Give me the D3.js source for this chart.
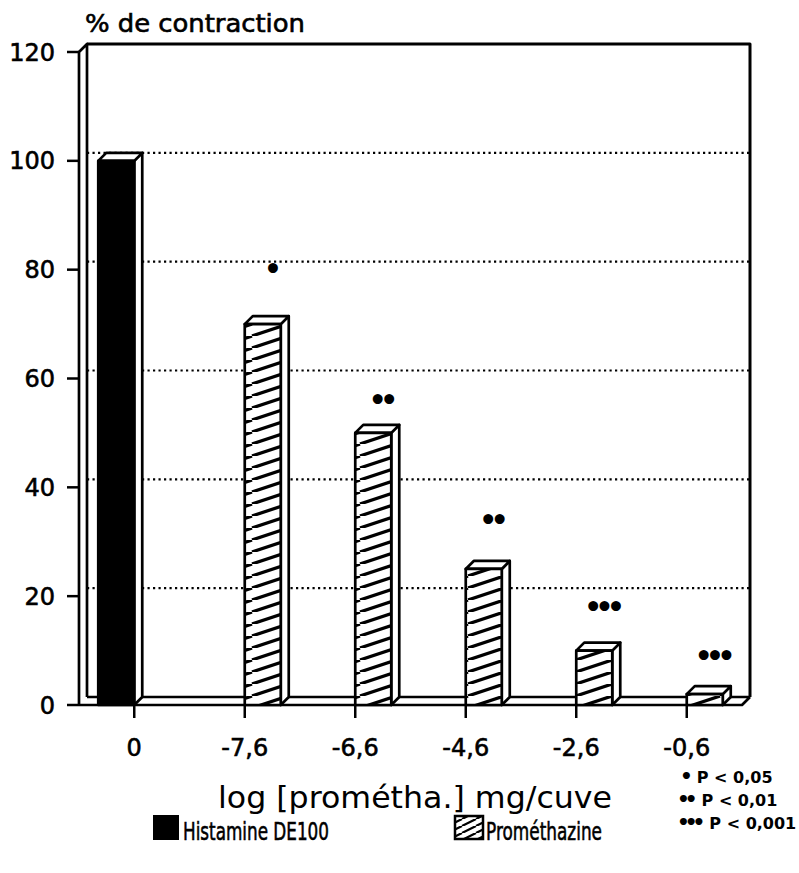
<!DOCTYPE html>
<html><head><meta charset="utf-8">
<script src="https://cdn.jsdelivr.net/npm/d3@7/dist/d3.min.js"></script>
<style>
html,body{margin:0;padding:0;background:#fff;}
svg{display:block;}
text{font-family:"DejaVu Sans","Liberation Sans",Arial,sans-serif;fill:#000;}
.heavy{stroke:#000;stroke-width:0.6px;}
</style></head>
<body>
<script>
// ---- data ----
const categories = ["0", "-7,6", "-6,6", "-4,6", "-2,6", "-0,6"];
const seriesNames = ["Histamine DE100", "Prométhazine"];
const histamine = [100, 0, 0, 0, 0, 0];
const promethazine = [0, 70, 50, 25, 10, 2];
const stars = ["", "•", "••", "••", "•••", "•••"];
const starValues = [null, 80, 56, 34, 18, 9];
const yTicks = [0, 20, 40, 60, 80, 100, 120];
const pMarks = ["•", "••", "•••"];
const pTexts = ["P < 0,05", "P < 0,01", "P < 0,001"];

const W = 799, H = 873;
const svg = d3.select("body").append("svg").attr("width", W).attr("height", H);
const defs = svg.append("defs");

// hatch pattern for bars
const pat = defs.append("pattern").attr("id", "hatch").attr("patternUnits", "userSpaceOnUse")
  .attr("width", 36).attr("height", 12);
pat.append("rect").attr("width", 36).attr("height", 12).attr("fill", "#fff");
pat.append("path").attr("d", "M0,12 L36,0 M-36,12 L0,0 M36,12 L72,0")
  .attr("stroke", "#000").attr("stroke-width", 3.2);
const pat2 = defs.append("pattern").attr("id", "hatch2").attr("patternUnits", "userSpaceOnUse")
  .attr("width", 14).attr("height", 7);
pat2.append("rect").attr("width", 14).attr("height", 7).attr("fill", "#fff");
pat2.append("path").attr("d", "M0,7 L14,0 M-14,7 L0,0 M14,7 L28,0")
  .attr("stroke", "#000").attr("stroke-width", 2.2);

// ---- scales ----
const x0 = d3.scaleBand().domain(categories).range([79, 742]).padding(0);
const x1 = d3.scaleBand().domain(seriesNames).range([-36, 36]).padding(0);
const y = d3.scaleLinear().domain([0, 120]).range([705, 52]);
const dx = 8, dy = -8;
const left = x0.range()[0], right = x0.range()[1];

// ---- back wall gridlines ----
svg.append("g").selectAll("line").data(yTicks.filter(v => v > 0 && v < 120)).join("line")
  .attr("x1", left + dx).attr("x2", right + dx)
  .attr("y1", d => y(d) + dy).attr("y2", d => y(d) + dy)
  .attr("stroke", "#000").attr("stroke-width", 2.2).attr("stroke-dasharray", "2.2,3.3");

const frame = svg.append("g").attr("fill", "none").attr("stroke", "#000").attr("stroke-width", 2.7)
  .attr("stroke-linejoin", "round");
frame.append("path").attr("d",
  `M${left + dx},${y(120) + dy} L${right + dx},${y(120) + dy} L${right + dx},${y(0) + dy}`)
  .attr("stroke-width", 3);
frame.append("path").attr("d",
  `M${left},${y(0)} L${left},${y(120)} L${left + dx},${y(120) + dy} L${left + dx},${y(0) + dy}`);
frame.append("path").attr("d",
  `M${left},${y(0)} L${right},${y(0)} L${right + dx},${y(0) + dy} M${left + dx},${y(0) + dy} L${right + dx},${y(0) + dy}`);

// ---- y axis ticks & labels ----
svg.append("g").selectAll("line").data(yTicks).join("line")
  .attr("x1", left - 12).attr("x2", left).attr("y1", d => y(d)).attr("y2", d => y(d))
  .attr("stroke", "#000").attr("stroke-width", 2.5);
svg.append("g").selectAll("text").data(yTicks).join("text").attr("class", "heavy")
  .attr("x", 55).attr("y", d => y(d)).attr("dy", "0.36em").attr("text-anchor", "end")
  .attr("font-size", 24).text(d => d);

// ---- x axis ticks & labels ----
svg.append("g").selectAll("line").data(categories).join("line")
  .attr("x1", d => x0(d) + x0.bandwidth() / 2).attr("x2", d => x0(d) + x0.bandwidth() / 2)
  .attr("y1", y(0)).attr("y2", y(0) + 13).attr("stroke", "#000").attr("stroke-width", 2.5);
svg.append("g").selectAll("text").data(categories).join("text").attr("class", "heavy")
  .attr("x", d => x0(d) + x0.bandwidth() / 2).attr("y", 756).attr("text-anchor", "middle")
  .attr("font-size", 24).text(d => d);

// ---- bars ----
const bars = [];
categories.forEach((c, i) => {
  [[seriesNames[0], histamine[i]], [seriesNames[1], promethazine[i]]].forEach(([s, v]) => {
    if (v > 0) bars.push({ c, s, v });
  });
});
const bg = svg.append("g").attr("stroke", "#000").attr("stroke-width", 2.7).attr("stroke-linejoin", "round");
bars.forEach(b => {
  const cx = x0(b.c) + x0.bandwidth() / 2;
  const xa = cx + x1(b.s), xb = xa + x1.bandwidth();
  const yt = y(b.v), yb = y(0);
  const g = bg.append("g");
  g.append("path").attr("fill", "#fff")
    .attr("d", `M${xb},${yt} L${xb + dx},${yt + dy} L${xb + dx},${yb + dy} L${xb},${yb} Z`);
  g.append("path").attr("fill", "#fff")
    .attr("d", `M${xa},${yt} L${xa + dx},${yt + dy} L${xb + dx},${yt + dy} L${xb},${yt} Z`);
  g.append("rect").attr("x", xa).attr("y", yt).attr("width", xb - xa).attr("height", yb - yt)
    .attr("fill", b.s === seriesNames[0] ? "#000" : "url(#hatch)");
});

// ---- significance marks ----
svg.append("g").selectAll("text").data(categories.map((c, i) => ({ c, s: stars[i], v: starValues[i] })).filter(d => d.v != null))
  .join("text")
  .attr("x", d => x0(d.c) + x0.bandwidth() / 2 + x1(seriesNames[1]) + x1.bandwidth() / 2 + dx / 2 + 3)
  .attr("y", d => y(d.v)).attr("dy", "0.35em").attr("text-anchor", "middle")
  .attr("font-size", 28).attr("font-weight", "bold").attr("letter-spacing", -6.5).text(d => d.s);

// ---- titles ----
svg.append("text").attr("class", "heavy").attr("x", 85).attr("y", 32).attr("font-size", 24)
  .attr("textLength", 220).attr("lengthAdjust", "spacingAndGlyphs").text("% de contraction");
svg.append("text").attr("x", 218).attr("y", 808)
  .attr("font-size", 31).attr("textLength", 394).attr("lengthAdjust", "spacingAndGlyphs")
  .text("log [prométha.] mg/cuve");

// ---- legend ----
const lg = svg.append("g");
lg.append("rect").attr("x", 153).attr("y", 815).attr("width", 26).attr("height", 25).attr("fill", "#000");
lg.append("text").attr("class", "heavy").attr("x", 183).attr("y", 840).attr("font-size", 25)
  .attr("textLength", 146).attr("lengthAdjust", "spacingAndGlyphs").text(seriesNames[0]);
lg.append("rect").attr("x", 455).attr("y", 816).attr("width", 28).attr("height", 23)
  .attr("fill", "url(#hatch2)").attr("stroke", "#000").attr("stroke-width", 2.5);
lg.append("text").attr("class", "heavy").attr("x", 486).attr("y", 840).attr("font-size", 25)
  .attr("textLength", 116).attr("lengthAdjust", "spacingAndGlyphs").text(seriesNames[1]);

const pl = svg.append("g").selectAll("text").data(pTexts).join("text")
  .attr("x", (d, i) => [680, 677, 677][i]).attr("y", (d, i) => 783 + i * 23)
  .attr("font-size", 16).attr("font-weight", "bold");
pl.append("tspan").attr("font-size", 20).attr("letter-spacing", -5).text((d, i) => pMarks[i]);
pl.append("tspan").attr("dx", 9).text(d => d);
</script>
</body></html>
